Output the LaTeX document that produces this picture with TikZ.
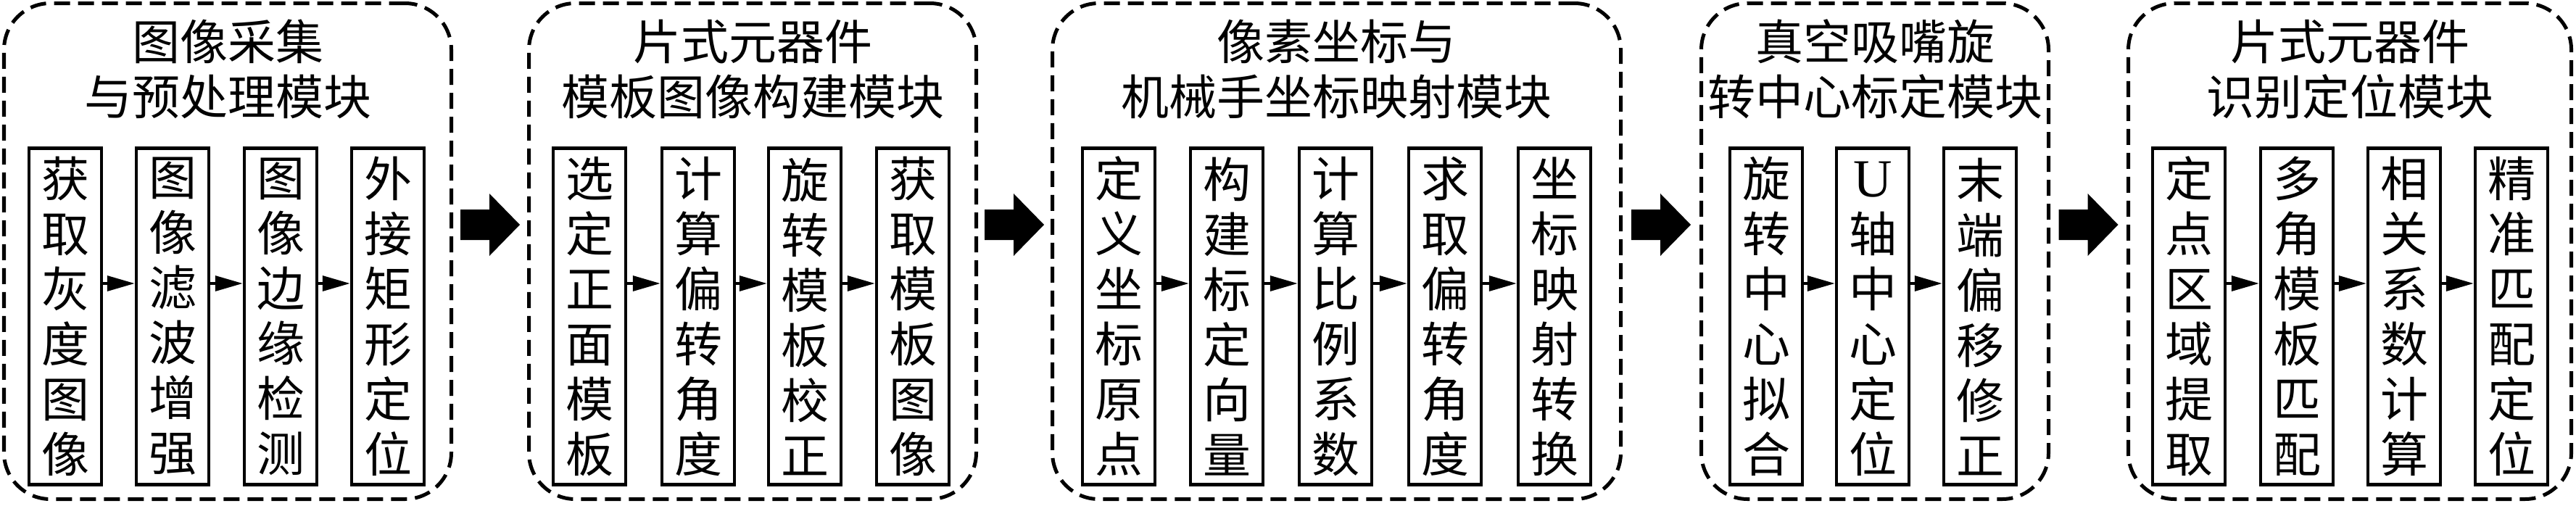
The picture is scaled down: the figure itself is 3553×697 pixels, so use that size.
\documentclass[tikz,border=0pt]{standalone}
\usepackage{fontspec}
\newfontfamily\cjk{Noto Sans CJK SC}
\newfontfamily\latn{Liberation Serif}
\usetikzlibrary{arrows.meta,calc}
\tikzset{
  module/.style={draw, line width=1.25pt, dash pattern=on 5.5pt off 2.75pt,
    rounded corners=16pt, minimum height=171pt, inner sep=0pt},
  title/.style={align=center, inner sep=0pt, font=\cjk\fontsize{16.5}{19}\selectfont},
  stepbox/.style={draw, line width=1.1pt, minimum width=25pt, minimum height=116pt,
    inner sep=0pt, align=center, font=\cjk\fontsize{16.5}{19}\selectfont},
  flow/.style={line width=1pt, -{Triangle[length=9.5pt,width=5.2pt]}},
  bigarrow/.style={fill=black}
}
\begin{document}
\begin{tikzpicture}[x=0.25pt, y=-0.25pt]
\useasboundingbox (0,0) rectangle (3553,697);
\coordinate (Ya) at (0,391);
\coordinate (Yb) at (0,310);
% modules
\node[module, minimum width=154.25pt] (m1) at (314,346.5) {};
\node[module, minimum width=154.25pt] (m2) at (1038,346.5) {};
\node[module, minimum width=196pt] (m3) at (1843.5,346.5) {};
\node[module, minimum width=119.75pt] (m4) at (2586,346.5) {};
\node[module, minimum width=152.75pt] (m5) at (3241,346.5) {};
% titles
\node[title] (t1) at (314,95.5) {图像采集\\与预处理模块};
\node[title] (t2) at (1038,95.5) {片式元器件\\模板图像构建模块};
\node[title] (t3) at (1843.5,95.5) {像素坐标与\\机械手坐标映射模块};
\node[title] (t4) at (2586,95.5) {真空吸嘴旋\\转中心标定模块};
\node[title] (t5) at (3241,95.5) {片式元器件\\识别定位模块};
% module 1
\node[stepbox] (b11) at (90,436.5) {获\\取\\灰\\度\\图\\像};
\node[stepbox] (b12) at (238,436.5) {图\\像\\滤\\波\\增\\强};
\node[stepbox] (b13) at (387,436.5) {图\\像\\边\\缘\\检\\测};
\node[stepbox] (b14) at (535,436.5) {外\\接\\矩\\形\\定\\位};
% module 2
\node[stepbox] (b21) at (813,436.5) {选\\定\\正\\面\\模\\板};
\node[stepbox] (b22) at (963,436.5) {计\\算\\偏\\转\\角\\度};
\node[stepbox] (b23) at (1110,436.5) {旋\\转\\模\\板\\校\\正};
\node[stepbox] (b24) at (1259,436.5) {获\\取\\模\\板\\图\\像};
% module 3
\node[stepbox] (b31) at (1543,436.5) {定\\义\\坐\\标\\原\\点};
\node[stepbox] (b32) at (1692,436.5) {构\\建\\标\\定\\向\\量};
\node[stepbox] (b33) at (1842,436.5) {计\\算\\比\\例\\系\\数};
\node[stepbox] (b34) at (1993,436.5) {求\\取\\偏\\转\\角\\度};
\node[stepbox] (b35) at (2144,436.5) {坐\\标\\映\\射\\转\\换};
% module 4
\node[stepbox] (b41) at (2436,436.5) {旋\\转\\中\\心\\拟\\合};
\node[stepbox] (b42) at (2583,436.5) {\vphantom{中}{\latn\fontsize{18.5}{19}\selectfont U}\\轴\\中\\心\\定\\位};
\node[stepbox] (b43) at (2731,436.5) {末\\端\\偏\\移\\修\\正};
% module 5
\node[stepbox] (b51) at (3019,436.5) {定\\点\\区\\域\\提\\取};
\node[stepbox] (b52) at (3168,436.5) {多\\角\\模\\板\\匹\\配};
\node[stepbox] (b53) at (3316,436.5) {相\\关\\系\\数\\计\\算};
\node[stepbox] (b54) at (3464,436.5) {精\\准\\匹\\配\\定\\位};
% small arrows
\foreach \a/\b in {b11/b12,b12/b13,b13/b14,b21/b22,b22/b23,b23/b24,
  b31/b32,b32/b33,b33/b34,b34/b35,b41/b42,b42/b43,b51/b52,b52/b53,b53/b54}
  \draw[flow] (\a.east |- Ya) -- (\b.west |- Ya);
% big arrows between modules
\foreach \a/\b in {m1/m2,m2/m3,m3/m4,m4/m5} {
  \coordinate (c\a) at ($(\a.east)!0.5!(\b.west)$);
  \fill[bigarrow] (c\a |- Yb) ++(-41,-21) -- ++(40,0) -- ++(0,-22) -- ++(42,43)
    -- ++(-42,43) -- ++(0,-22) -- ++(-40,0) -- cycle;
}
\end{tikzpicture}
\end{document}
